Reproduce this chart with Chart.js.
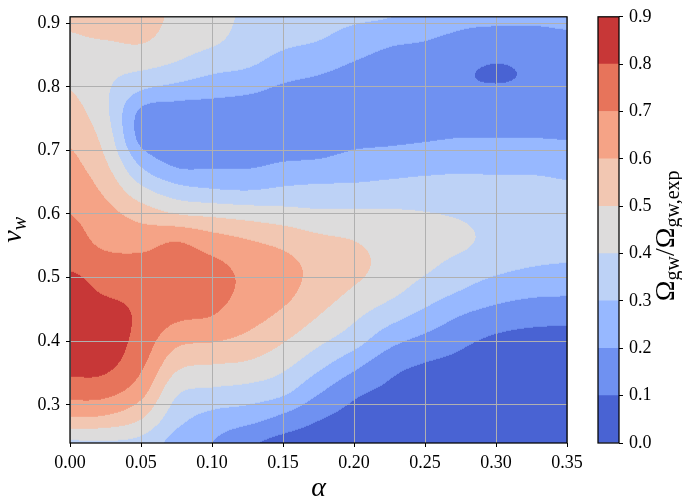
<!DOCTYPE html>
<html>
<head>
<meta charset="UTF-8" />
<script src="https://cdn.jsdelivr.net/npm/chart.js@4.4.0/dist/chart.umd.min.js"></script>
<style>
  body { margin: 0; background: #fff; }
  #wrap { position: relative; width: 682px; height: 499px; }
  #main { position: absolute; left: 0; top: 0; }
  #cbar { position: absolute; left: 590px; top: 0; }
</style>
</head>
<body>
<div id="wrap">
  <canvas id="main" width="682" height="499"></canvas>
  <canvas id="cbar" width="92" height="499"></canvas>
</div>
<script>
// grid of the contour data
const alphaGrid = [0, 0.025, 0.05, 0.075, 0.1, 0.125, 0.15, 0.175, 0.2, 0.225, 0.25, 0.275, 0.3, 0.325, 0.35];
const vwGrid = [0.24, 0.28, 0.32, 0.36, 0.40, 0.44, 0.48, 0.52, 0.56, 0.60, 0.64, 0.68, 0.72, 0.76, 0.80, 0.84, 0.88, 0.92];

// Omega_gw / Omega_gw,exp along vwGrid, one array per alpha
const omegaA000 = [0.385, 0.595, 0.74, 0.83, 0.87, 0.88, 0.85, 0.785, 0.74, 0.70, 0.665, 0.625, 0.585, 0.54, 0.497, 0.475, 0.495, 0.53];
const omegaA025 = [0.39, 0.585, 0.73, 0.82, 0.855, 0.855, 0.785, 0.74, 0.67, 0.635, 0.575, 0.51, 0.46, 0.42, 0.415, 0.44, 0.51, 0.55];
const omegaA050 = [0.37, 0.51, 0.635, 0.715, 0.76, 0.78, 0.77, 0.73, 0.66, 0.56, 0.42, 0.28, 0.17, 0.18, 0.32, 0.44, 0.52, 0.55];
const omegaA075 = [0.26, 0.34, 0.415, 0.52, 0.625, 0.72, 0.755, 0.74, 0.69, 0.50, 0.33, 0.18, 0.13, 0.15, 0.28, 0.40, 0.46, 0.48];
const omegaA100 = [0.20, 0.27, 0.38, 0.49, 0.605, 0.70, 0.73, 0.72, 0.64, 0.48, 0.30, 0.18, 0.12, 0.15, 0.25, 0.35, 0.43, 0.45];
const omegaA125 = [0.12, 0.24, 0.36, 0.475, 0.57, 0.64, 0.68, 0.67, 0.60, 0.46, 0.29, 0.18, 0.12, 0.14, 0.23, 0.32, 0.36, 0.38];
const omegaA150 = [0.07, 0.18, 0.32, 0.42, 0.506, 0.58, 0.63, 0.63, 0.565, 0.44, 0.31, 0.205, 0.13, 0.13, 0.19, 0.27, 0.33, 0.35];
const omegaA175 = [0.05, 0.11, 0.21, 0.32, 0.42, 0.50, 0.555, 0.57, 0.52, 0.42, 0.32, 0.215, 0.14, 0.13, 0.17, 0.24, 0.31, 0.33];
const omegaA200 = [0.04, 0.07, 0.12, 0.22, 0.34, 0.42, 0.49, 0.53, 0.497, 0.42, 0.32, 0.24, 0.17, 0.14, 0.15, 0.20, 0.27, 0.33];
const omegaA225 = [0.02, 0.05, 0.08, 0.13, 0.23, 0.34, 0.43, 0.465, 0.46, 0.415, 0.33, 0.25, 0.18, 0.15, 0.14, 0.17, 0.23, 0.32];
const omegaA250 = [0.02, 0.03, 0.05, 0.09, 0.17, 0.27, 0.36, 0.42, 0.44, 0.405, 0.34, 0.26, 0.19, 0.15, 0.14, 0.16, 0.21, 0.25];
const omegaA275 = [0.01, 0.02, 0.03, 0.07, 0.12, 0.20, 0.30, 0.37, 0.42, 0.39, 0.34, 0.27, 0.20, 0.15, 0.110, 0.120, 0.19, 0.22];
const omegaA300 = [0.01, 0.01, 0.02, 0.04, 0.08, 0.16, 0.25, 0.33, 0.37, 0.36, 0.33, 0.27, 0.20, 0.15, 0.103, 0.103, 0.18, 0.22];
const omegaA325 = [0.01, 0.01, 0.02, 0.03, 0.06, 0.14, 0.225, 0.305, 0.35, 0.36, 0.33, 0.27, 0.20, 0.15, 0.110, 0.115, 0.18, 0.22];
const omegaA350 = [0.01, 0.01, 0.02, 0.03, 0.06, 0.13, 0.22, 0.295, 0.34, 0.35, 0.315, 0.265, 0.195, 0.15, 0.125, 0.13, 0.19, 0.22];

const levels = [0, 0.1, 0.2, 0.3, 0.4, 0.5, 0.6, 0.7, 0.8, 0.9];
const bandColors = ['#4963d3', '#6f91f1', '#97b8ff', '#bdd2f6', '#dddcdc', '#f2c7b2', '#f5a386', '#e7745b', '#c73737'];

const xTicks = [0, 0.05, 0.1, 0.15, 0.2, 0.25, 0.3, 0.35];
const yTicks = [0.3, 0.4, 0.5, 0.6, 0.7, 0.8, 0.9];
const cbTicks = [0, 0.1, 0.2, 0.3, 0.4, 0.5, 0.6, 0.7, 0.8, 0.9];

const omegaCols = [omegaA000, omegaA025, omegaA050, omegaA075, omegaA100, omegaA125, omegaA150,
  omegaA175, omegaA200, omegaA225, omegaA250, omegaA275, omegaA300, omegaA325, omegaA350];

const serif = "'Liberation Serif', 'DejaVu Serif', serif";

function cell(i, j) {
  i = Math.max(0, Math.min(alphaGrid.length - 1, i));
  j = Math.max(0, Math.min(vwGrid.length - 1, j));
  return omegaCols[i][j];
}
function locate(g, v) {
  let k = 0;
  while (k < g.length - 2 && v > g[k + 1]) k++;
  return [k, (v - g[k]) / (g[k + 1] - g[k])];
}
// catmull-rom, like a smooth contourf
function cr(p0, p1, p2, p3, t) {
  return p1 + 0.5 * t * (p2 - p0 + t * (2 * p0 - 5 * p1 + 4 * p2 - p3 + t * (3 * (p1 - p2) + p3 - p0)));
}
function omegaAt(ix, iy) {
  const [i, tx] = ix, [j, ty] = iy;
  const c = [];
  for (let m = -1; m <= 2; m++) {
    c.push(cr(cell(i + m, j - 1), cell(i + m, j), cell(i + m, j + 1), cell(i + m, j + 2), ty));
  }
  return cr(c[0], c[1], c[2], c[3], tx);
}
function bandOf(val) {
  let k = 0;
  while (k < bandColors.length - 1 && val >= levels[k + 1]) k++;
  return k;
}
function hexRgb(h) {
  return [parseInt(h.slice(1, 3), 16), parseInt(h.slice(3, 5), 16), parseInt(h.slice(5, 7), 16)];
}

const contourPlugin = {
  id: 'contourFill',
  beforeDatasetsDraw(chart) {
    const { ctx, chartArea: ca, scales: { x, y } } = chart;
    const w = Math.round(ca.right - ca.left), h = Math.round(ca.bottom - ca.top);
    const off = document.createElement('canvas');
    off.width = w; off.height = h;
    const octx = off.getContext('2d');
    const img = octx.createImageData(w, h);
    const rgb = bandColors.map(hexRgb);
    const cols = [];
    for (let px = 0; px < w; px++) cols.push(locate(alphaGrid, x.getValueForPixel(ca.left + px + 0.5)));
    for (let py = 0; py < h; py++) {
      const iy = locate(vwGrid, y.getValueForPixel(ca.top + py + 0.5));
      for (let px = 0; px < w; px++) {
        const c = rgb[bandOf(omegaAt(cols[px], iy))];
        const o = (py * w + px) * 4;
        img.data[o] = c[0]; img.data[o + 1] = c[1]; img.data[o + 2] = c[2]; img.data[o + 3] = 255;
      }
    }
    octx.putImageData(img, 0, 0);
    ctx.drawImage(off, ca.left, ca.top);
  }
};

const framePlugin = {
  id: 'frameAndTitles',
  afterDraw(chart) {
    const { ctx, chartArea: ca } = chart;
    ctx.save();
    ctx.strokeStyle = '#000';
    ctx.lineWidth = 1.25;
    ctx.strokeRect(ca.left, ca.top, ca.right - ca.left, ca.bottom - ca.top);
    ctx.fillStyle = '#000';
    // alpha
    ctx.font = 'italic 28px ' + serif;
    ctx.textAlign = 'center';
    ctx.textBaseline = 'alphabetic';
    ctx.fillText('α', (ca.left + ca.right) / 2, 496);
    // v_w
    ctx.translate(21, (ca.top + ca.bottom) / 2);
    ctx.rotate(-Math.PI / 2);
    ctx.textAlign = 'left';
    ctx.font = 'italic 28px ' + serif;
    const wv = ctx.measureText('v').width;
    ctx.font = 'italic 20px ' + serif;
    const ww = ctx.measureText('w').width;
    const s = -(wv + ww) / 2;
    ctx.font = 'italic 28px ' + serif;
    ctx.fillText('v', s, 0);
    ctx.font = 'italic 20px ' + serif;
    ctx.fillText('w', s + wv, 5);
    ctx.restore();
  }
};

const cbarPlugin = {
  id: 'cbarFrame',
  afterDraw(chart) {
    const { ctx, chartArea: ca } = chart;
    ctx.save();
    ctx.strokeStyle = '#000';
    ctx.lineWidth = 1.25;
    ctx.strokeRect(ca.left, ca.top, ca.right - ca.left, ca.bottom - ca.top);
    // colorbar label
    const parts = [['Ω', 28, 0], ['gw', 20, 5], ['/Ω', 28, 0], ['gw,exp', 20, 5]];
    let total = 0;
    parts.forEach(p => { ctx.font = p[1] + 'px ' + serif; total += ctx.measureText(p[0]).width; });
    ctx.translate(84, (ca.top + ca.bottom) / 2 + 6);
    ctx.rotate(-Math.PI / 2);
    ctx.fillStyle = '#000';
    ctx.textBaseline = 'alphabetic';
    let pos = -total / 2;
    parts.forEach(p => {
      ctx.font = p[1] + 'px ' + serif;
      ctx.fillText(p[0], pos, p[2]);
      pos += ctx.measureText(p[0]).width;
    });
    ctx.restore();
  }
};

const tickFont = { family: serif, size: 18 };

new Chart(document.getElementById('main'), {
  type: 'scatter',
  data: { datasets: [{ data: [] }] },
  options: {
    responsive: false,
    animation: false,
    devicePixelRatio: 1,
    layout: { padding: { top: 12, right: 115, left: 0, bottom: 0 } },
    plugins: { legend: { display: false }, tooltip: { enabled: false } },
    scales: {
      x: {
        type: 'linear', min: 0, max: 0.35,
        afterBuildTicks: s => { s.ticks = xTicks.map(v => ({ value: v })); },
        afterFit: s => { s.height = 56; },
        grid: { z: 1, color: '#b0b0b0', lineWidth: 1, tickColor: '#000', tickLength: 4, tickWidth: 1 },
        border: { display: false },
        ticks: { color: '#000', font: tickFont, padding: 5, maxRotation: 0, autoSkip: false,
          callback: v => v.toFixed(2) }
      },
      y: {
        type: 'linear', min: 0.24, max: 0.91,
        afterBuildTicks: s => { s.ticks = yTicks.map(v => ({ value: v })); },
        afterFit: s => { s.width = 70; },
        grid: { z: 1, color: '#b0b0b0', lineWidth: 1, tickColor: '#000', tickLength: 4, tickWidth: 1 },
        border: { display: false },
        ticks: { color: '#000', font: tickFont, padding: 6, autoSkip: false,
          callback: v => v.toFixed(1) }
      }
    }
  },
  plugins: [contourPlugin, framePlugin]
});

new Chart(document.getElementById('cbar'), {
  type: 'bar',
  data: {
    labels: [''],
    datasets: bandColors.map((c, k) => ({
      data: [levels[k + 1] - levels[k]],
      backgroundColor: c,
      borderWidth: 0,
      barPercentage: 1,
      categoryPercentage: 1
    }))
  },
  options: {
    responsive: false,
    animation: false,
    devicePixelRatio: 1,
    layout: { padding: { top: 12, bottom: 56, left: 8, right: 0 } },
    plugins: { legend: { display: false }, tooltip: { enabled: false } },
    scales: {
      x: { stacked: true, display: false },
      y: {
        stacked: true, position: 'right', min: 0, max: 0.9,
        afterBuildTicks: s => { s.ticks = cbTicks.map(v => ({ value: v })); },
        afterFit: s => { s.width = 63; },
        grid: { drawOnChartArea: false, tickColor: '#000', tickLength: 4, tickWidth: 1 },
        border: { display: false },
        ticks: { color: '#000', font: tickFont, padding: 6, autoSkip: false,
          callback: v => v.toFixed(1) }
      }
    }
  },
  plugins: [cbarPlugin]
});
</script>
</body>
</html>
